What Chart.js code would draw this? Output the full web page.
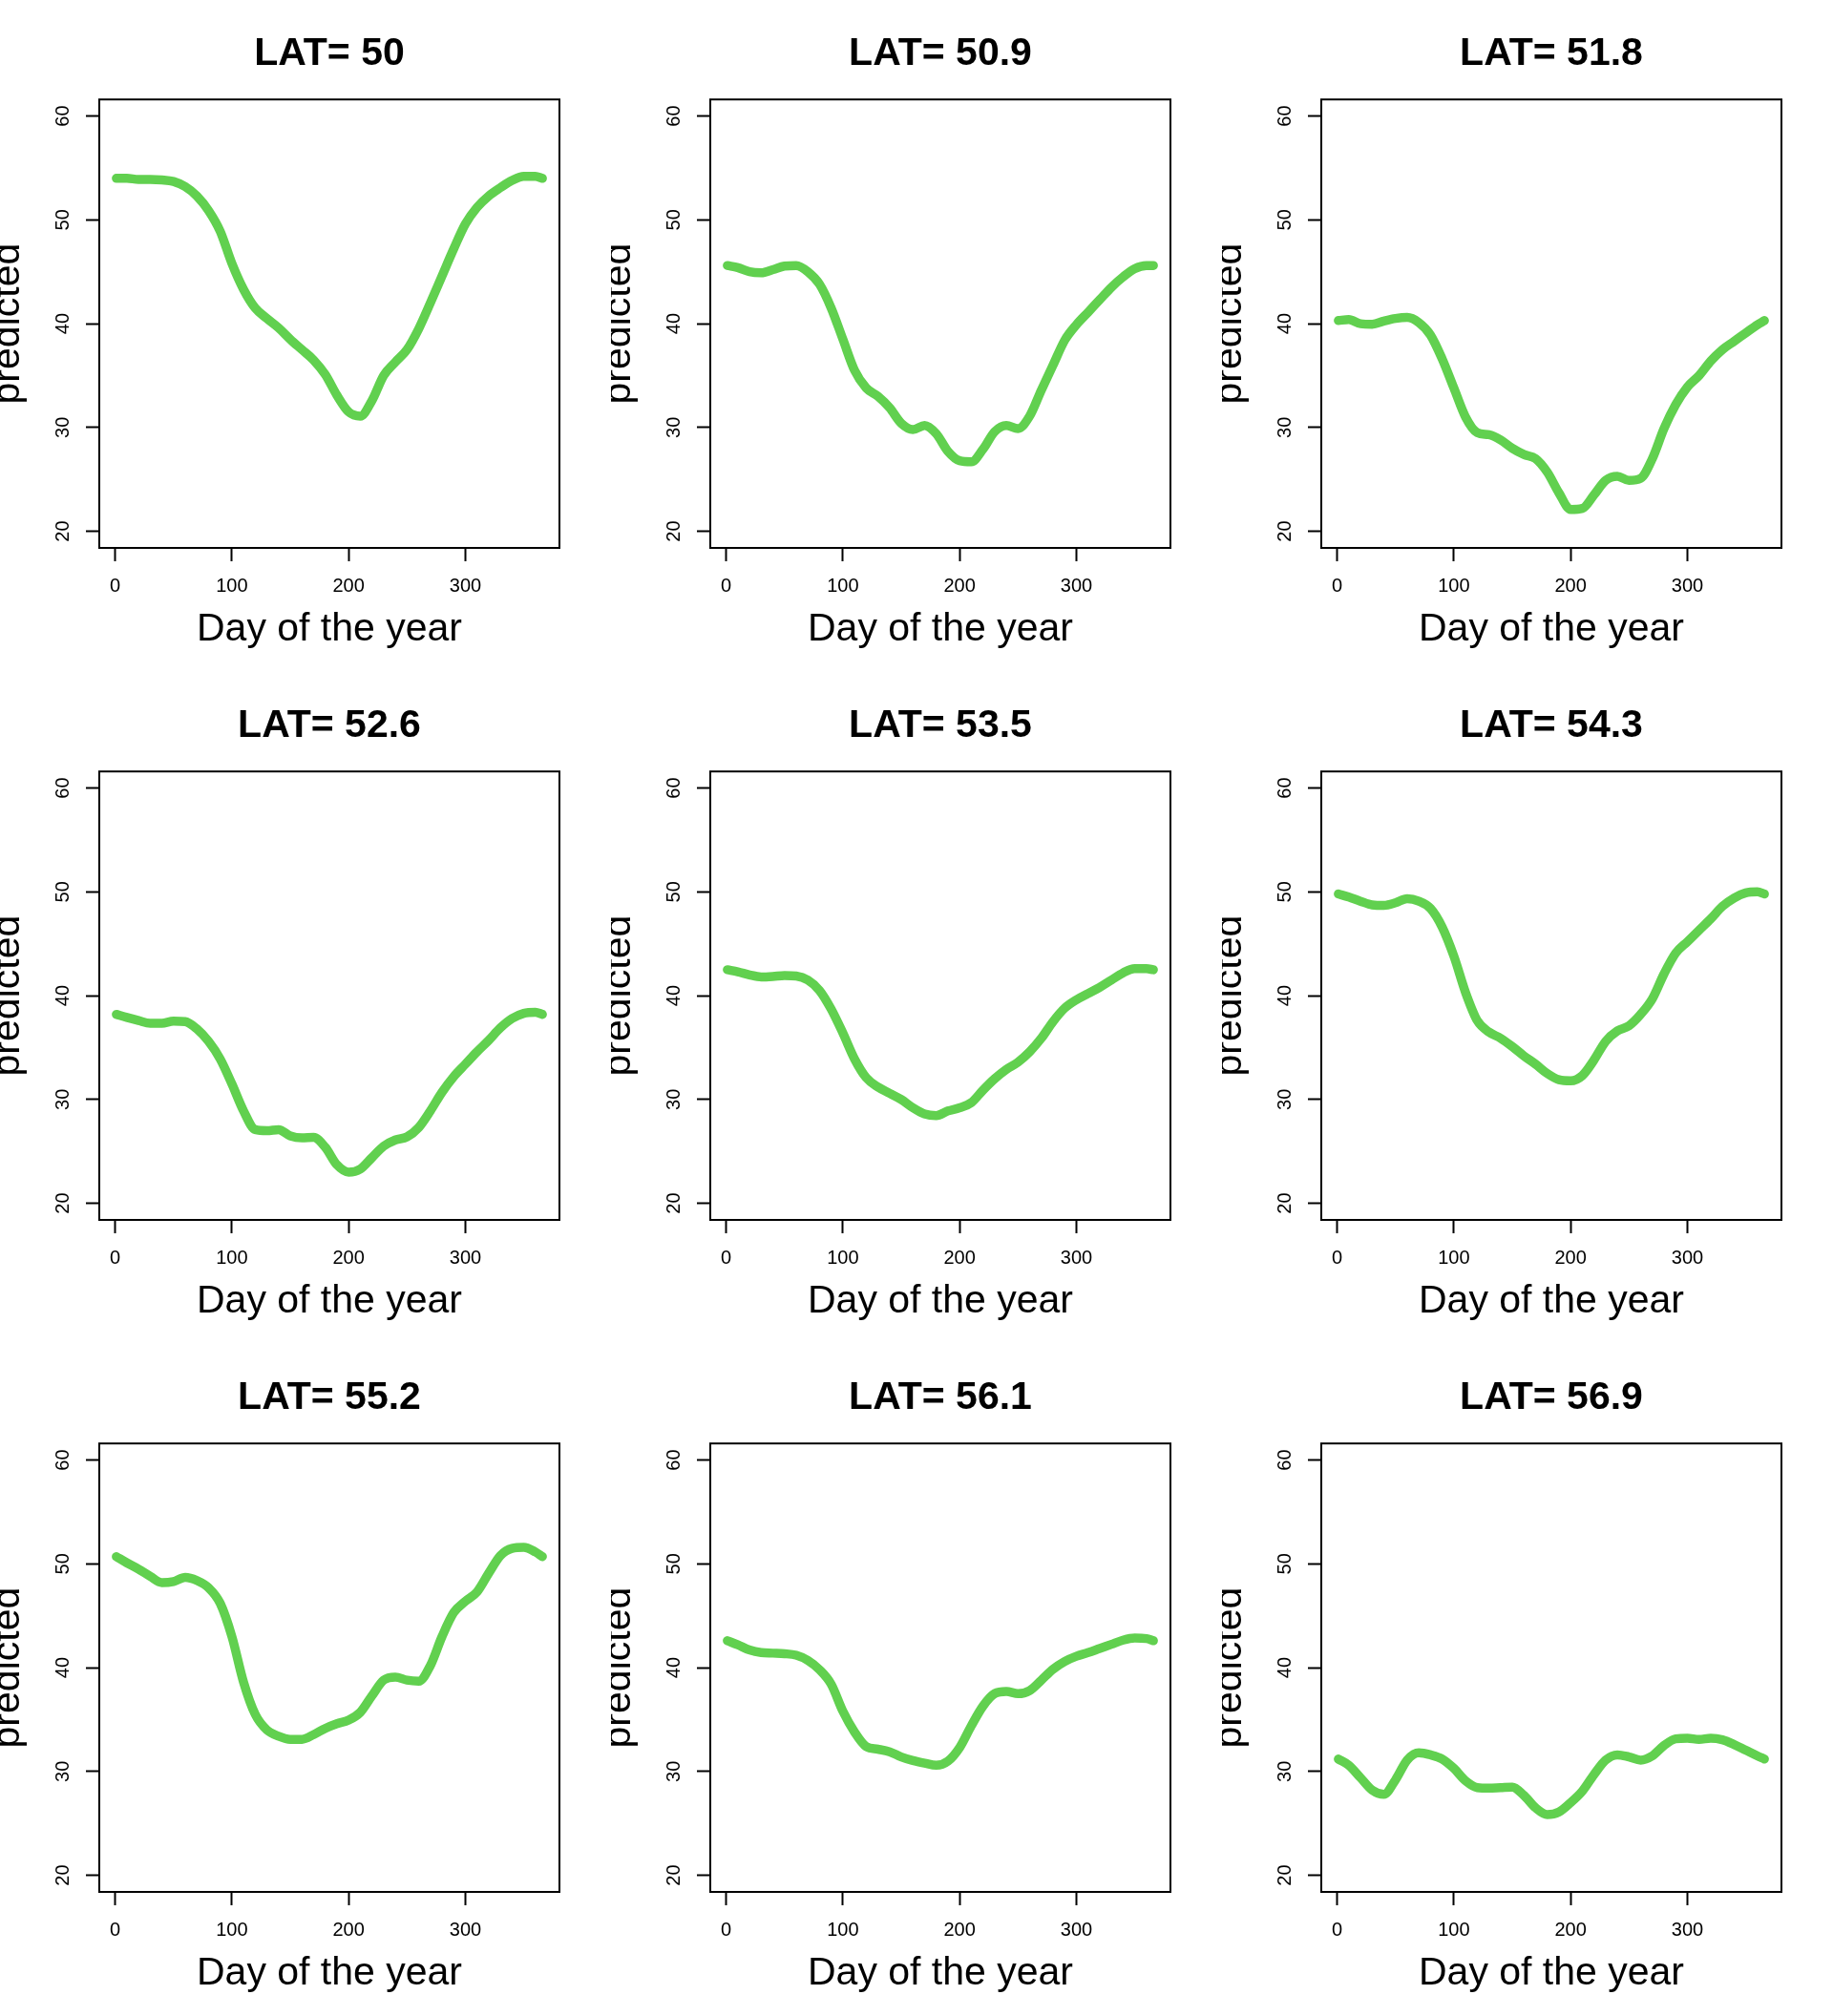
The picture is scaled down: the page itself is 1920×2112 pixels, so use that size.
<!DOCTYPE html>
<html>
<head>
<meta charset="utf-8">
<script src="https://cdn.jsdelivr.net/npm/chart.js@4.4.1/dist/chart.umd.min.js"></script>
<style>
html,body{margin:0;padding:0;background:#fff;overflow:hidden;}
#grid{position:relative;width:1920px;height:2112px;background:#fff;}
.panel{position:absolute;width:640px;height:704px;}
</style>
</head>
<body>
<div id="grid"></div>
<script>
// ---- data ----
const days = [1,10,20,30,40,50,60,70,80,90,100,110,120,130,140,150,160,170,180,190,200,210,220,230,240,250,260,270,280,290,300,310,320,330,340,350,360,366];

const lat50   = [54.0,54.0,53.9,53.9,53.85,53.7,53.2,52.3,50.9,48.9,45.8,43.3,41.5,40.5,39.6,38.5,37.5,36.5,35.1,33.1,31.5,31.1,32.6,35.0,36.3,37.5,39.5,42.0,44.6,47.2,49.6,51.2,52.3,53.1,53.8,54.2,54.2,54.0];
const lat50_9 = [45.6,45.4,45.0,44.9,45.2,45.55,45.6,45.0,43.8,41.5,38.5,35.5,33.8,33.0,31.9,30.4,29.8,30.2,29.4,27.7,26.8,26.7,27.9,29.6,30.2,29.9,31.1,33.6,36.0,38.4,39.9,41.1,42.3,43.5,44.5,45.3,45.6,45.6];
const lat51_8 = [40.3,40.4,40.0,39.95,40.25,40.5,40.6,40.1,38.9,36.6,33.8,31.0,29.5,29.3,28.8,28.0,27.4,27.0,25.7,23.7,22.1,22.2,23.5,24.9,25.3,24.9,25.1,27.0,29.9,32.2,33.9,35.0,36.4,37.5,38.3,39.1,39.9,40.3];
const lat52_6 = [38.2,37.9,37.6,37.35,37.35,37.55,37.5,36.8,35.6,33.9,31.5,28.9,27.1,27.0,27.1,26.5,26.3,26.35,25.4,23.7,23.0,23.3,24.4,25.5,26.1,26.4,27.3,28.9,30.7,32.2,33.4,34.6,35.7,36.9,37.8,38.3,38.4,38.2];
const lat53_5 = [42.5,42.3,42.0,41.8,41.85,41.95,41.9,41.5,40.5,38.7,36.4,33.9,32.1,31.2,30.6,30.0,29.2,28.6,28.45,28.9,29.2,29.7,30.9,32.0,32.9,33.6,34.6,35.9,37.5,38.8,39.6,40.2,40.8,41.5,42.2,42.6,42.6,42.5];
const lat54_3 = [49.8,49.5,49.1,48.75,48.7,48.95,49.35,49.1,48.4,46.6,43.8,40.3,37.6,36.5,35.9,35.1,34.2,33.4,32.5,31.9,31.8,32.3,33.8,35.6,36.6,37.1,38.2,39.7,42.1,44.1,45.2,46.3,47.4,48.6,49.4,49.9,50.0,49.8];
const lat55_2 = [50.7,50.1,49.5,48.8,48.2,48.3,48.7,48.4,47.7,46.2,43.0,38.6,35.5,34.0,33.4,33.1,33.1,33.55,34.15,34.6,34.95,35.7,37.3,38.8,39.1,38.8,38.7,40.2,43.0,45.3,46.4,47.3,49.1,50.8,51.5,51.6,51.15,50.7];
const lat56_1 = [42.6,42.2,41.7,41.45,41.4,41.35,41.2,40.7,39.8,38.4,35.8,33.8,32.4,32.15,31.9,31.4,31.05,30.8,30.6,31.0,32.3,34.4,36.3,37.5,37.7,37.5,37.8,38.8,39.85,40.6,41.1,41.45,41.85,42.25,42.65,42.85,42.8,42.6];
const lat56_9 = [31.2,30.6,29.4,28.2,27.8,29.2,31.1,31.8,31.6,31.2,30.3,29.1,28.45,28.4,28.45,28.5,27.7,26.5,25.85,26.1,27.0,28.1,29.7,31.1,31.6,31.4,31.1,31.5,32.5,33.15,33.2,33.1,33.2,33.05,32.6,32.05,31.5,31.2];

const latLabels = ['50','50.9','51.8','52.6','53.5','54.3','55.2','56.1','56.9'];
const seriesList = [lat50, lat50_9, lat51_8, lat52_6, lat53_5, lat54_3, lat55_2, lat56_1, lat56_9];
const xTicks = [0,100,200,300];
const yTicks = [20,30,40,50,60];

// ---- style ----
const FONT = '"Liberation Sans", Arial, Helvetica, sans-serif';
const GREEN = '#61D04F';

const boxPlugin = {
  id: 'rbox',
  afterDraw(chart) {
    const a = chart.chartArea, c = chart.ctx;
    c.save();
    c.strokeStyle = '#000';
    c.lineWidth = 2;
    c.strokeRect(a.left, a.top, a.right - a.left, a.bottom - a.top);
    c.restore();
  }
};

const grid = document.getElementById('grid');
seriesList.forEach((vals, i) => {
  const col = i % 3, row = Math.floor(i / 3);
  const div = document.createElement('div');
  div.className = 'panel';
  div.style.left = (col * 640) + 'px';
  div.style.top = (row * 704) + 'px';
  const cv = document.createElement('canvas');
  cv.width = 640; cv.height = 704;
  cv.style.width = '640px'; cv.style.height = '704px';
  div.appendChild(cv);
  grid.appendChild(div);

  new Chart(cv, {
    type: 'line',
    data: {
      datasets: [{
        data: days.map((d, k) => ({x: d, y: vals[k]})),
        borderColor: GREEN,
        borderWidth: 9.5,
        borderCapStyle: 'round',
        borderJoinStyle: 'round',
        pointRadius: 0,
        fill: false,
        cubicInterpolationMode: 'monotone'
      }]
    },
    options: {
      responsive: false,
      animation: false,
      devicePixelRatio: 1,
      layout: {padding: {left: 0, right: 54, top: 0, bottom: 0}},
      plugins: {
        legend: {display: false},
        tooltip: {enabled: false},
        title: {
          display: true,
          text: 'LAT= ' + latLabels[i],
          fullSize: false,
          color: '#000',
          font: {family: FONT, size: 41, weight: 'bold', lineHeight: 1.2},
          padding: {top: 32, bottom: 23}
        }
      },
      scales: {
        x: {
          type: 'linear',
          min: -13.6, max: 380.6,
          afterBuildTicks: s => { s.ticks = xTicks.map(v => ({value: v})); },
          afterFit: s => { s.height = 130; },
          grid: {drawOnChartArea: false, drawTicks: true, tickLength: 14, tickWidth: 2, tickColor: '#000'},
          border: {display: false},
          ticks: {color: '#000', font: {family: FONT, size: 20}, padding: 14, maxRotation: 0, minRotation: 0, autoSkip: false},
          title: {display: true, text: 'Day of the year', color: '#000', font: {family: FONT, size: 41}, padding: {top: 0, bottom: 20}}
        },
        y: {
          type: 'linear',
          min: 18.4, max: 61.6,
          afterBuildTicks: s => { s.ticks = yTicks.map(v => ({value: v})); },
          afterFit: s => { s.width = 104; },
          grid: {drawOnChartArea: false, drawTicks: true, tickLength: 14, tickWidth: 2, tickColor: '#000'},
          border: {display: false},
          ticks: {color: '#000', font: {family: FONT, size: 20}, padding: 12, minRotation: 90, maxRotation: 90, crossAlign: 'center', autoSkip: false},
          title: {display: true, text: 'predicted', color: '#000', font: {family: FONT, size: 41}, padding: {top: -16, bottom: 0}}
        }
      }
    },
    plugins: [boxPlugin]
  });
});
</script>
</body>
</html>
